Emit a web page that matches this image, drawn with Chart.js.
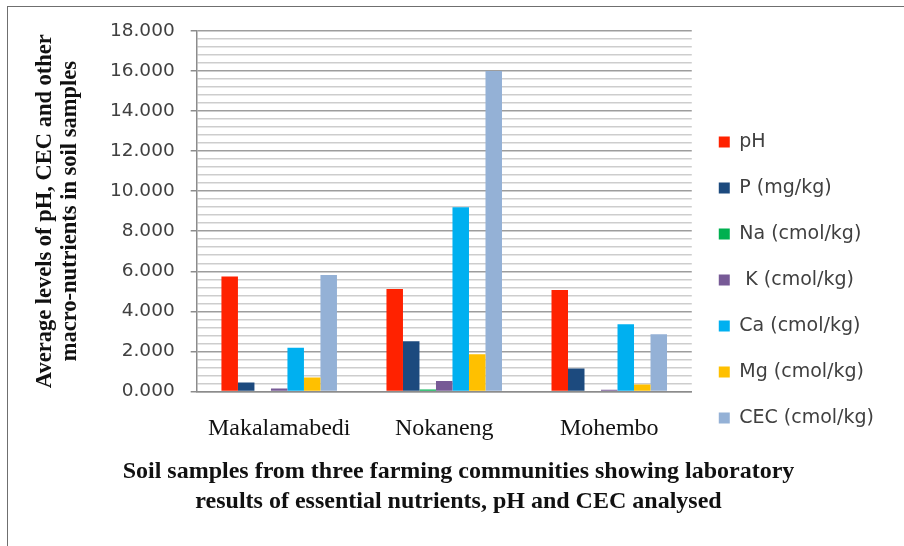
<!DOCTYPE html>
<html>
<head>
<meta charset="utf-8">
<script src="https://cdn.jsdelivr.net/npm/chart.js@4/dist/chart.umd.min.js"></script>
<style>
    body { margin: 0; background: #fff; }
    #wrap { position: relative; width: 904px; height: 546px; overflow: hidden; }
    #frame { position: absolute; left: 7px; top: 6px; width: 910px; height: 560px; border: 1.5px solid #6f6f6f; }
    canvas { position: absolute; left: 0; top: 0; }
</style>
</head>
<body>
<div id="wrap">
    <div id="frame"></div>
    <canvas id="soilChart" width="904" height="546"></canvas>
</div>
<script>
// communities sampled
const comunidades = ['Makalamabedi', 'Nokaneng', 'Mohembo'];

// average levels
const ph  = [5.74, 5.12, 5.07];
const p   = [0.45, 2.50, 1.14];
const na  = [0.03, 0.10, 0.03];
const k   = [0.15, 0.52, 0.08];
const ca  = [2.18, 9.20, 3.36];
const mg  = [0.70, 1.86, 0.35];
const cec = [5.81, 16.00, 2.86];

const nombresSeries = ['pH', 'P (mg/kg)', 'Na (cmol/kg)', ' K (cmol/kg)', 'Ca (cmol/kg)', 'Mg (cmol/kg)', 'CEC (cmol/kg)'];
const colores = ['#ff2200', '#1c4a7e', '#00b050', '#775a96', '#00b0f0', '#ffc000', '#94b1d6'];

const tituloY = ['Average levels of pH, CEC and other', 'macro-nutrients in soil samples'];
const tituloX = ['Soil samples from three farming communities showing laboratory', 'results of essential nutrients, pH and CEC analysed'];

function esMayor(v) {
    return Math.abs(v / 2 - Math.round(v / 2)) < 1e-6;
}

document.addEventListener('DOMContentLoaded', function() {
    const ctx = document.getElementById('soilChart').getContext('2d');
    const valores = [ph, p, na, k, ca, mg, cec];

    new Chart(ctx, {
        type: 'bar',
        data: {
            labels: comunidades,
            datasets: valores.map((serie, i) => ({
                label: nombresSeries[i],
                data: serie,
                backgroundColor: colores[i],
                borderWidth: 0,
                categoryPercentage: 0.7,
                barPercentage: 1.0
            }))
        },
        options: {
            responsive: false,
            animation: false,
            layout: {
                padding: { left: 33, right: 20, top: 31, bottom: 29 }
            },
            scales: {
                x: {
                    grid: { display: false, drawTicks: false },
                    border: { color: '#8c8c8c', width: 1.5 },
                    ticks: {
                        color: '#111',
                        padding: 27,
                        font: { family: 'Liberation Serif', size: 24, lineHeight: 0.9 }
                    }
                },
                y: {
                    min: 0,
                    max: 18,
                    border: { color: '#8c8c8c', width: 1.5 },
                    grid: {
                        color: c => esMayor(c.tick.value) ? '#9d9d9d' : '#cdcdcd',
                        lineWidth: 1.5,
                        tickLength: 6,
                        tickColor: c => esMayor(c.tick.value) ? '#8c8c8c' : 'rgba(0,0,0,0)'
                    },
                    ticks: {
                        stepSize: 0.4,
                        autoSkip: false,
                        padding: 16,
                        color: '#404040',
                        font: { family: 'DejaVu Sans', size: 18.5 },
                        callback: v => esMayor(v) ? v.toFixed(3) : ''
                    },
                    title: {
                        display: true,
                        text: tituloY,
                        color: '#111',
                        padding: { top: 0, bottom: 11 },
                        font: { family: 'Liberation Serif', size: 22.5, weight: 'bold', lineHeight: 1.11 }
                    }
                }
            },
            plugins: {
                legend: {
                    position: 'right',
                    title: { display: true, text: '', padding: { top: 11, bottom: 0 }, font: { size: 1 } },
                    labels: {
                        boxWidth: 11,
                        boxHeight: 11,
                        padding: 27,
                        color: '#404040',
                        font: { family: 'DejaVu Sans', size: 19 }
                    }
                },
                title: {
                    display: true,
                    position: 'bottom',
                    text: tituloX,
                    color: '#111',
                    padding: { top: -10, bottom: 0 },
                    font: { family: 'Liberation Serif', size: 24, weight: 'bold', lineHeight: 1.25 }
                },
                tooltip: { enabled: false }
            }
        }
    });
});
</script>
</body>
</html>
